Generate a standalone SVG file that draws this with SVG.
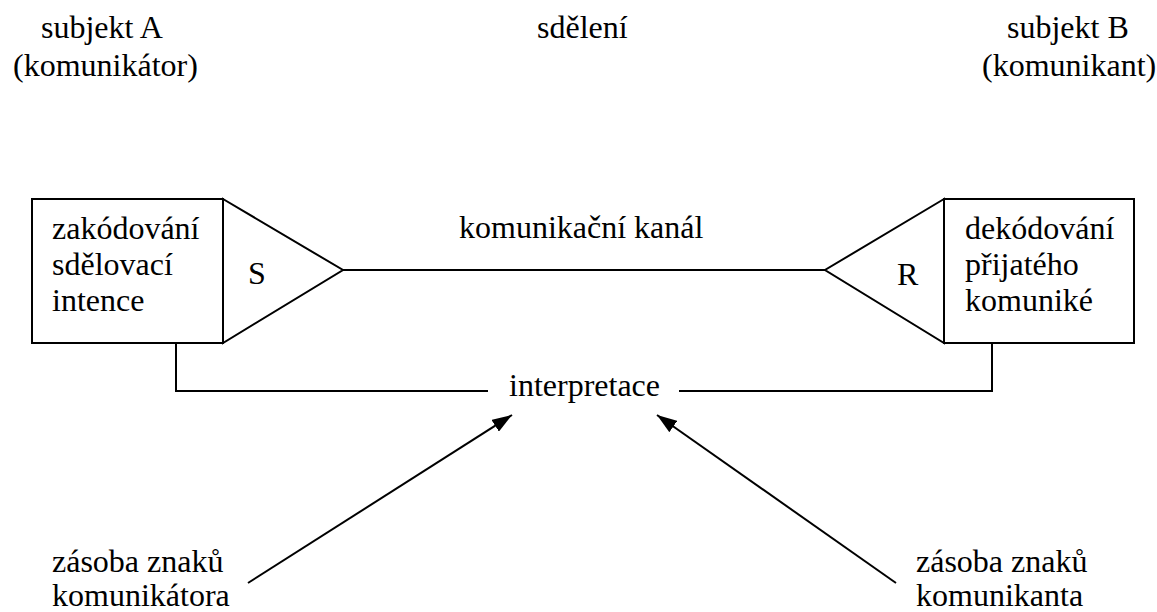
<svg xmlns="http://www.w3.org/2000/svg" width="1157" height="612" viewBox="0 0 1157 612">
  <style>
    text { font-family: "Liberation Serif", Tinos, "Times New Roman", Times, "DejaVu Serif", serif; font-size: 32px; fill: #000; }
    .shape { fill: #fff; stroke: #000; stroke-width: 2; }
    .wire { fill: none; stroke: #000; stroke-width: 2; }
  </style>
  <defs>
    <marker id="head" viewBox="0 0 20 14" refX="20" refY="7" markerWidth="20" markerHeight="14" markerUnits="userSpaceOnUse" orient="auto">
      <path d="M0,0 L20,7 L0,14 z" fill="#000"/>
    </marker>
  </defs>
  <rect width="1157" height="612" fill="#fff"/>

  <!-- headings -->
  <g id="subjektA">
    <text x="41" y="38">subjekt A</text>
    <text x="13" y="76">(komunikátor)</text>
  </g>
  <g id="sdeleni">
    <text x="537" y="38">sdělení</text>
  </g>
  <g id="subjektB">
    <text x="1007" y="38">subjekt B</text>
    <text x="982" y="76">(komunikant)</text>
  </g>

  <!-- connectors -->
  <g id="connectors">
    <line class="wire" x1="343" y1="270" x2="825" y2="270"/>
    <polyline class="wire" points="176,343 176,391 488,391"/>
    <polyline class="wire" points="679,391 992,391 992,343"/>
    <line class="wire" x1="248" y1="583" x2="512" y2="415" marker-end="url(#head)"/>
    <line class="wire" x1="896" y1="583" x2="657" y2="415" marker-end="url(#head)"/>
  </g>

  <g id="kanal">
    <text x="459" y="238">komunikační kanál</text>
  </g>

  <!-- sender -->
  <g id="sender">
    <rect class="shape" x="32" y="199" width="191" height="144"/>
    <text x="52" y="239">zakódování</text>
    <text x="52" y="275">sdělovací</text>
    <text x="52" y="311">intence</text>
    <polygon class="shape" points="223,199 343,270 223,343"/>
    <text x="248" y="284">S</text>
  </g>

  <!-- receiver -->
  <g id="receiver">
    <rect class="shape" x="944" y="199" width="190" height="144"/>
    <text x="965" y="239">dekódování</text>
    <text x="965" y="275">přijatého</text>
    <text x="965" y="311">komuniké</text>
    <polygon class="shape" points="944,199 825,270 944,343"/>
    <text x="897" y="285">R</text>
  </g>

  <g id="interpretace">
    <text x="509" y="396">interpretace</text>
  </g>

  <g id="zasobaA">
    <text x="52" y="572">zásoba znaků</text>
    <text x="52" y="606">komunikátora</text>
  </g>
  <g id="zasobaB">
    <text x="916" y="572">zásoba znaků</text>
    <text x="916" y="606">komunikanta</text>
  </g>
</svg>
